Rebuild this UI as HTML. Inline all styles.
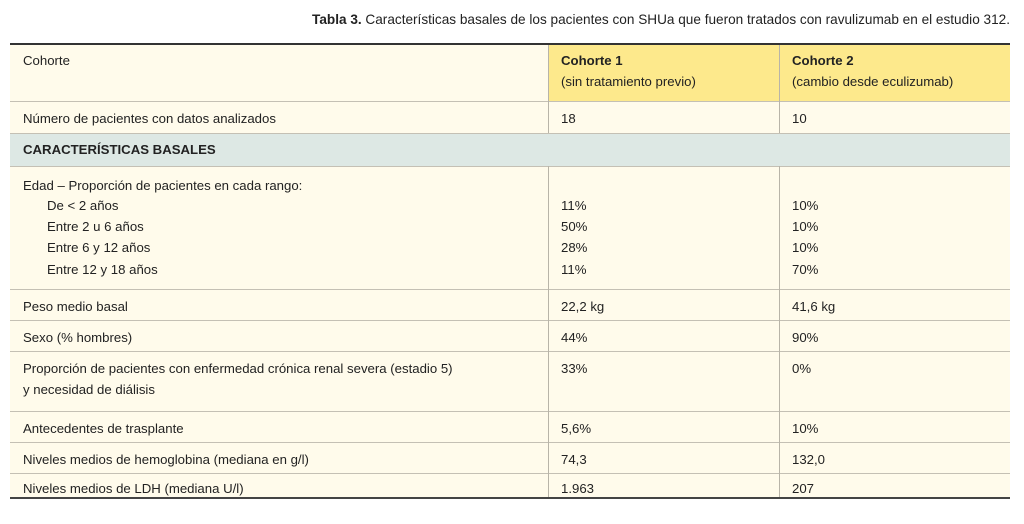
<!DOCTYPE html>
<html><head><meta charset="utf-8"><style>
body{margin:0;width:1024px;height:524px;background:#fff;position:relative;overflow:hidden;font-family:"Liberation Sans",sans-serif;color:#222;}
.t{position:absolute;font-size:13.2px;white-space:nowrap;line-height:16px;}
.r{position:absolute;left:10px;width:1000px;}
.h{position:absolute;left:10px;width:1000px;height:1px;background:#c4c0b4;}
.v{position:absolute;width:1px;background:#b8b4a8;}
b{font-weight:bold;}
</style></head><body>
<div class="t" style="right:14px;top:12px;font-size:13.6px;"><b>Tabla 3.</b> Características basales de los pacientes con SHUa que fueron tratados con ravulizumab en el estudio 312.</div>
<div class="r" style="top:44px;height:454px;background:#fffbeb;"></div>
<div class="r" style="top:44px;height:57px;left:548px;width:462px;background:#fde98c;"></div>
<div class="r" style="top:133px;height:33px;background:#dde8e4;"></div>
<div class="r" style="top:43px;height:2px;background:#333;"></div>
<div class="r" style="top:497px;height:2px;background:#444;"></div>
<div class="h" style="top:101px"></div>
<div class="h" style="top:133px"></div>
<div class="h" style="top:166px"></div>
<div class="h" style="top:289px"></div>
<div class="h" style="top:320px"></div>
<div class="h" style="top:351px"></div>
<div class="h" style="top:411px"></div>
<div class="h" style="top:442px"></div>
<div class="h" style="top:473px"></div>
<div class="v" style="left:548px;top:45px;height:88px"></div>
<div class="v" style="left:779px;top:45px;height:88px"></div>
<div class="v" style="left:548px;top:166px;height:331px"></div>
<div class="v" style="left:779px;top:166px;height:331px"></div>

<div class="t" style="left:23px;top:53px">Cohorte</div>
<div class="t" style="left:561px;top:53px"><b>Cohorte 1</b></div>
<div class="t" style="left:561px;top:74px">(sin tratamiento previo)</div>
<div class="t" style="left:792px;top:53px"><b>Cohorte 2</b></div>
<div class="t" style="left:792px;top:74px">(cambio desde eculizumab)</div>

<div class="t" style="left:23px;top:111px">Número de pacientes con datos analizados</div>
<div class="t" style="left:561px;top:111px">18</div>
<div class="t" style="left:792px;top:111px">10</div>

<div class="t" style="left:23px;top:142px"><b>CARACTERÍSTICAS BASALES</b></div>

<div class="t" style="left:23px;top:178px">Edad – Proporción de pacientes en cada rango:</div>
<div class="t" style="left:47px;top:198px">De &lt; 2 años</div>
<div class="t" style="left:47px;top:219px">Entre 2 u 6 años</div>
<div class="t" style="left:47px;top:240px">Entre 6 y 12 años</div>
<div class="t" style="left:47px;top:262px">Entre 12 y 18 años</div>
<div class="t" style="left:561px;top:198px">11%</div>
<div class="t" style="left:561px;top:219px">50%</div>
<div class="t" style="left:561px;top:240px">28%</div>
<div class="t" style="left:561px;top:262px">11%</div>
<div class="t" style="left:792px;top:198px">10%</div>
<div class="t" style="left:792px;top:219px">10%</div>
<div class="t" style="left:792px;top:240px">10%</div>
<div class="t" style="left:792px;top:262px">70%</div>

<div class="t" style="left:23px;top:299px">Peso medio basal</div>
<div class="t" style="left:561px;top:299px">22,2 kg</div>
<div class="t" style="left:792px;top:299px">41,6 kg</div>

<div class="t" style="left:23px;top:330px">Sexo (% hombres)</div>
<div class="t" style="left:561px;top:330px">44%</div>
<div class="t" style="left:792px;top:330px">90%</div>

<div class="t" style="left:23px;top:361px">Proporción de pacientes con enfermedad crónica renal severa (estadio 5)</div>
<div class="t" style="left:23px;top:382px">y necesidad de diálisis</div>
<div class="t" style="left:561px;top:361px">33%</div>
<div class="t" style="left:792px;top:361px">0%</div>

<div class="t" style="left:23px;top:421px">Antecedentes de trasplante</div>
<div class="t" style="left:561px;top:421px">5,6%</div>
<div class="t" style="left:792px;top:421px">10%</div>

<div class="t" style="left:23px;top:452px">Niveles medios de hemoglobina (mediana en g/l)</div>
<div class="t" style="left:561px;top:452px">74,3</div>
<div class="t" style="left:792px;top:452px">132,0</div>

<div class="t" style="left:23px;top:481px">Niveles medios de LDH (mediana U/l)</div>
<div class="t" style="left:561px;top:481px">1.963</div>
<div class="t" style="left:792px;top:481px">207</div>
</body></html>
